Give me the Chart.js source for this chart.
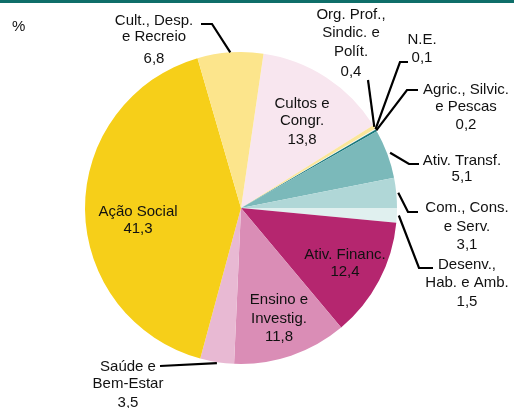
<!DOCTYPE html>
<html>
<head>
<meta charset="utf-8">
<script src="https://cdn.jsdelivr.net/npm/chart.js@4.4.0/dist/chart.umd.min.js"></script>
<style>
  html, body { margin: 0; padding: 0; background: #ffffff; }
  #wrap { position: relative; width: 514px; height: 408px; overflow: hidden; }
  #topbar { position: absolute; left: 0; top: 0; width: 514px; height: 3px; background: #0E6E69; }
  canvas { position: absolute; left: 0; top: 0; }
</style>
</head>
<body>
<div id="wrap">
  <canvas id="c" width="514" height="408"></canvas>
  <div id="topbar"></div>
</div>
<script>
// ---- Data ----
const categories = [
  'Cultos e Congr.',
  'Org. Prof., Sindic. e Polít.',
  'N.E.',
  'Agric., Silvic. e Pescas',
  'Ativ. Transf.',
  'Com., Cons. e Serv.',
  'Desenv., Hab. e Amb.',
  'Ativ. Financ.',
  'Ensino e Investig.',
  'Saúde e Bem-Estar',
  'Ação Social',
  'Cult., Desp. e Recreio'
];
const values = [13.8, 0.4, 0.1, 0.2, 5.1, 3.1, 1.5, 12.4, 11.8, 3.5, 41.3, 6.8];
const labelLines = [
  ['Cultos e', 'Congr.'],
  ['Org. Prof.,', 'Sindic. e', 'Polít.'],
  ['N.E.'],
  ['Agric., Silvic.', 'e Pescas'],
  ['Ativ. Transf.'],
  ['Com., Cons.', 'e Serv.'],
  ['Desenv.,', 'Hab. e Amb.'],
  ['Ativ. Financ.'],
  ['Ensino e', 'Investig.'],
  ['Saúde e', 'Bem-Estar'],
  ['Ação Social'],
  ['Cult., Desp.', 'e Recreio']
];
const unitLabel = '%';

// ---- Styling / layout (not data) ----
const colors = [
  '#F8E6EF', '#FBE69A', '#F2F2F2', '#17787B', '#7BB9BA', '#B0D7D7',
  '#E0F0EF', '#B5266F', '#DA8DB6', '#E8B9D3', '#F6CF19', '#FCE58C'
];
const labelLayout = [
  { x: 302, ys: [104, 121, 140] },
  { x: 351, ys: [15, 33, 52, 72], leader: [[368, 80]] },
  { x: 422, ys: [40, 58], leader: [[400, 62], [408, 62]] },
  { x: 466, ys: [90, 107, 125], leader: [[407, 90], [418, 90]] },
  { x: 462, ys: [161, 177], leader: [[409, 164], [419, 164]] },
  { x: 467, ys: [208, 227, 245], leader: [[408, 212], [418, 212]] },
  { x: 467, ys: [265, 283, 302], leader: [[419, 268], [433, 268]] },
  { x: 345, ys: [255, 272] },
  { x: 279, ys: [300, 319, 337] },
  { x: 128, ys: [367, 384, 403], leader: [[160, 366]] },
  { x: 138, ys: [212, 229] },
  { x: 154, ys: [21, 37, 59], leader: [[212, 24], [201, 24]] }
];
const leaderGap = [0, 0, 0, 0, 3, 2, 2, 0, 0, 1, 0, 0];
const FONT = '15px "Liberation Sans", Arial, sans-serif';
const TEXT_COLOR = '#111111';

function fmt(v) { return v.toFixed(1).replace('.', ','); }

const labelPlugin = {
  id: 'pieLabels',
  afterDraw(chart) {
    const ctx = chart.ctx;
    const meta = chart.getDatasetMeta(0);
    ctx.save();
    ctx.strokeStyle = '#000000';
    ctx.lineWidth = 2.2;
    ctx.lineJoin = 'miter';
    meta.data.forEach((arc, i) => {
      const lay = labelLayout[i];
      if (!lay.leader) return;
      const p = arc.getProps(['x', 'y', 'startAngle', 'endAngle', 'outerRadius'], true);
      const mid = (p.startAngle + p.endAngle) / 2;
      const r = p.outerRadius + leaderGap[i];
      const sx = p.x + Math.cos(mid) * r;
      const sy = p.y + Math.sin(mid) * r;
      ctx.beginPath();
      ctx.moveTo(sx, sy);
      lay.leader.forEach(pt => ctx.lineTo(pt[0], pt[1]));
      ctx.stroke();
    });
    ctx.font = FONT;
    ctx.fillStyle = TEXT_COLOR;
    ctx.textAlign = 'center';
    ctx.textBaseline = 'middle';
    meta.data.forEach((arc, i) => {
      const lay = labelLayout[i];
      const lines = labelLines[i].concat([fmt(values[i])]);
      lines.forEach((t, k) => ctx.fillText(t, lay.x, lay.ys[k]));
    });
    ctx.textAlign = 'left';
    ctx.fillText(unitLabel, 12, 27);
    ctx.restore();
  }
};

new Chart(document.getElementById('c'), {
  type: 'pie',
  data: {
    labels: categories,
    datasets: [{
      data: values,
      backgroundColor: colors,
      borderWidth: 0,
      hoverOffset: 0
    }]
  },
  options: {
    responsive: false,
    animation: false,
    rotation: 8.3,
    layout: { padding: { left: 85, top: 52, right: 117, bottom: 44 } },
    plugins: {
      legend: { display: false },
      tooltip: { enabled: false }
    },
    events: []
  },
  plugins: [labelPlugin]
});
</script>
</body>
</html>
